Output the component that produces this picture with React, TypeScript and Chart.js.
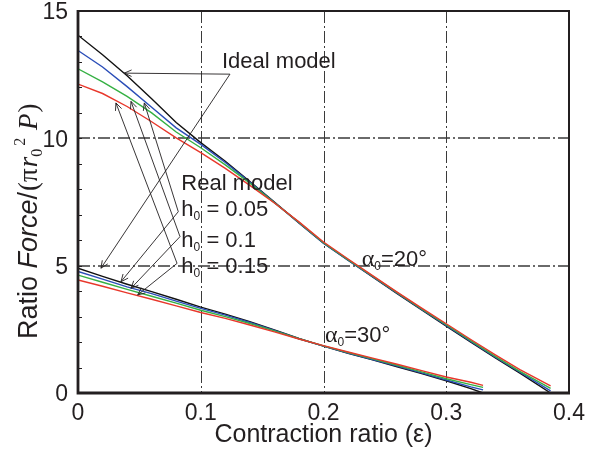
import { useEffect, useRef } from "react";
import { Chart, registerables } from "chart.js";

Chart.register(...registerables);

// Contraction ratio samples, half-angle 20°
const EPS_20 = [0, 0.02, 0.04, 0.06, 0.08, 0.1, 0.12, 0.14, 0.16, 0.18, 0.2, 0.22, 0.24, 0.26, 0.28, 0.3, 0.32, 0.34, 0.36, 0.385];
const IDEAL_20 = [14.05, 13.28, 12.46, 11.55, 10.62, 9.83, 9.1, 8.3, 7.5, 6.68, 5.88, 5.22, 4.56, 3.9, 3.26, 2.62, 2.0, 1.38, 0.78, 0];
const H005_20 = [13.45, 12.8, 12.03, 11.22, 10.41, 9.76, 9.05, 8.28, 7.48, 6.68, 5.88, 5.22, 4.57, 3.92, 3.28, 2.65, 2.03, 1.41, 0.82, 0.08];
const H010_20 = [12.73, 12.22, 11.65, 11.0, 10.25, 9.63, 8.96, 8.24, 7.47, 6.7, 5.9, 5.24, 4.59, 3.94, 3.3, 2.68, 2.06, 1.44, 0.85, 0.18];
const H015_20 = [12.13, 11.76, 11.25, 10.65, 10.02, 9.44, 8.82, 8.15, 7.46, 6.72, 5.93, 5.26, 4.61, 3.96, 3.33, 2.72, 2.1, 1.5, 0.92, 0.28];

// Contraction ratio samples, half-angle 30°
const EPS_30 = [0, 0.02, 0.04, 0.06, 0.08, 0.1, 0.12, 0.14, 0.16, 0.18, 0.2, 0.22, 0.24, 0.26, 0.28, 0.3, 0.32, 0.33];
const IDEAL_30 = [4.9, 4.58, 4.27, 3.98, 3.68, 3.37, 3.1, 2.8, 2.48, 2.14, 1.84, 1.56, 1.3, 1.03, 0.76, 0.48, 0.17, 0];
const H005_30 = [4.77, 4.47, 4.17, 3.9, 3.61, 3.32, 3.06, 2.77, 2.46, 2.13, 1.84, 1.57, 1.31, 1.06, 0.79, 0.51, 0.24, 0.12];
const H010_30 = [4.63, 4.35, 4.07, 3.8, 3.53, 3.25, 3.0, 2.73, 2.44, 2.13, 1.85, 1.59, 1.34, 1.09, 0.83, 0.56, 0.33, 0.22];
const H015_30 = [4.44, 4.19, 3.93, 3.68, 3.42, 3.16, 2.93, 2.67, 2.4, 2.12, 1.86, 1.61, 1.37, 1.13, 0.88, 0.63, 0.42, 0.3];

// Axes
const X_GRID = [0.1, 0.2, 0.3];
const Y_GRID = [5, 10];
const Y_MINOR = [1, 2, 3, 4, 5, 6, 7, 8, 9, 10, 11, 12, 13, 14];
const X_TITLE = "Contraction ratio (\u03b5)";

// Call-out text
const IDEAL_NOTE = "Ideal model";
const REAL_NOTE = "Real model";
const H_VALUES = ["0.05", "0.1", "0.15"];
const ANGLE_NOTES = ["20\u00b0", "30\u00b0"];

// Call-out anchors (data units)
const IDEAL_HUB = { x: 0.1238, y: 12.52 };
const IDEAL_TIPS = [{ x: 0.0377, y: 12.56 }, { x: 0.0187, y: 4.9 }];
const REAL_HUBS = [{ x: 0.0817, y: 7.12 }, { x: 0.0831, y: 6.14 }, { x: 0.0807, y: 5.09 }];
const REAL_TIPS_20 = [{ x: 0.054, y: 11.39 }, { x: 0.0432, y: 11.45 }, { x: 0.0309, y: 11.39 }];
const REAL_TIPS_30 = [{ x: 0.035, y: 4.37 }, { x: 0.0432, y: 4.11 }, { x: 0.0486, y: 3.85 }];
const IDEAL_NOTE_AT = { x: 0.1173, y: 12.76 };
const REAL_NOTE_AT = { x: 0.0842, y: 7.97 };
const H_NOTE_AT = [{ x: 0.0842, y: 6.95 }, { x: 0.0842, y: 5.74 }, { x: 0.0842, y: 4.7 }];
const ANGLE_NOTE_AT = [{ x: 0.2311, y: 4.99 }, { x: 0.2012, y: 2.01 }];

const INK = "#231f20";
const BLACK = "#111111";
const BLUE = "#2a4db8";
const GREEN = "#35b043";
const RED = "#e8372b";
const SANS = '"Liberation Sans", Arial, Helvetica, sans-serif';
const SERIF = '"Liberation Serif", "Times New Roman", serif';

type Part = { t: string; font: string; dy?: number; dx?: number };

function drawParts(ctx: CanvasRenderingContext2D, x: number, y: number, parts: Part[]) {
  let cx = x;
  for (const p of parts) {
    ctx.font = p.font;
    cx += p.dx || 0;
    ctx.fillText(p.t, cx, y + (p.dy || 0));
    cx += ctx.measureText(p.t).width;
  }
}

function arrow(ctx: CanvasRenderingContext2D, x0: number, y0: number, x1: number, y1: number) {
  ctx.beginPath();
  ctx.moveTo(x0, y0);
  ctx.lineTo(x1, y1);
  const ang = Math.atan2(y1 - y0, x1 - x0);
  const len = 8;
  const spread = 0.42;
  ctx.moveTo(x1 - len * Math.cos(ang - spread), y1 - len * Math.sin(ang - spread));
  ctx.lineTo(x1, y1);
  ctx.lineTo(x1 - len * Math.cos(ang + spread), y1 - len * Math.sin(ang + spread));
  ctx.stroke();
}

const figureMarks = {
  id: "figureMarks",
  beforeDatasetsDraw(chart: any) {
    const { ctx, chartArea: a, scales } = chart;
    const xs = scales.x;
    const ys = scales.y;
    ctx.save();
    ctx.strokeStyle = "#3a3a3a";
    ctx.setLineDash([12, 3, 2, 3]);
    ctx.lineWidth = 1;
    for (const v of X_GRID) {
      const px = Math.round(xs.getPixelForValue(v)) + 0.5;
      ctx.beginPath();
      ctx.moveTo(px, a.top);
      ctx.lineTo(px, a.bottom);
      ctx.stroke();
    }
    ctx.lineWidth = 1.6;
    for (const v of Y_GRID) {
      const py = Math.round(ys.getPixelForValue(v));
      ctx.beginPath();
      ctx.moveTo(a.left, py);
      ctx.lineTo(a.right, py);
      ctx.stroke();
    }
    ctx.restore();
  },
  afterDatasetsDraw(chart: any) {
    const { ctx, chartArea: a, scales } = chart;
    const xs = scales.x;
    const ys = scales.y;
    const P = (p: { x: number; y: number }) => [xs.getPixelForValue(p.x), ys.getPixelForValue(p.y)];
    ctx.save();

    // frame
    ctx.strokeStyle = INK;
    ctx.lineWidth = 2;
    ctx.strokeRect(a.left, a.top, a.right - a.left, a.bottom - a.top);
    ctx.lineWidth = 2.8;
    ctx.beginPath();
    ctx.moveTo(a.left, a.top - 1);
    ctx.lineTo(a.left, a.bottom);
    ctx.lineTo(a.right + 1, a.bottom);
    ctx.stroke();

    // minor ticks on the value axis
    ctx.lineWidth = 1;
    for (const v of Y_MINOR) {
      const py = Math.round(ys.getPixelForValue(v)) + 0.5;
      ctx.beginPath();
      ctx.moveTo(a.left, py);
      ctx.lineTo(a.left + 4, py);
      ctx.stroke();
    }

    // call-out arrows
    ctx.lineWidth = 0.9;
    const [hx, hy] = P(IDEAL_HUB);
    for (const t of IDEAL_TIPS) {
      const [tx, ty] = P(t);
      arrow(ctx, hx, hy, tx, ty);
    }
    REAL_HUBS.forEach((h, i) => {
      const [rx, ry] = P(h);
      const [ax, ay] = P(REAL_TIPS_20[i]);
      const [bx, by] = P(REAL_TIPS_30[i]);
      arrow(ctx, rx, ry, ax, ay);
      arrow(ctx, rx, ry, bx, by);
    });

    // notes
    ctx.fillStyle = INK;
    ctx.textBaseline = "alphabetic";
    ctx.textAlign = "left";
    const big = `22px ${SANS}`;
    const sub = `12px ${SANS}`;
    {
      const [x, y] = P(IDEAL_NOTE_AT);
      drawParts(ctx, x, y, [{ t: IDEAL_NOTE, font: big }]);
    }
    {
      const [x, y] = P(REAL_NOTE_AT);
      drawParts(ctx, x, y, [{ t: REAL_NOTE, font: big }]);
    }
    H_VALUES.forEach((h, i) => {
      const [x, y] = P(H_NOTE_AT[i]);
      drawParts(ctx, x, y, [
        { t: "h", font: big },
        { t: "0", font: sub, dy: 4 },
        { t: " = " + h, font: big },
      ]);
    });
    ANGLE_NOTES.forEach((s, i) => {
      const [x, y] = P(ANGLE_NOTE_AT[i]);
      drawParts(ctx, x, y, [
        { t: "\u03b1", font: `24px ${SERIF}` },
        { t: "0", font: sub, dy: 4 },
        { t: "=" + s, font: big },
      ]);
    });

    // x-axis title
    ctx.font = `25px ${SANS}`;
    ctx.textAlign = "center";
    ctx.fillText(X_TITLE, (a.left + a.right) / 2, 442);

    // y-axis title, written upwards from the lower end
    ctx.textAlign = "left";
    const serif = `27px ${SERIF}`;
    const serifIt = `italic 27px ${SERIF}`;
    const tiny = `16px ${SERIF}`;
    const yParts: Part[] = [
      { t: "Ratio ", font: `27px ${SANS}` },
      { t: "Force", font: `italic 27px ${SANS}` },
      { t: "/", font: `27px ${SANS}` },
      { t: "(", font: serif, dx: 1 },
      { t: "\u03c0", font: serif },
      { t: "r", font: serifIt, dx: 1 },
      { t: "0", font: tiny, dy: 5 },
      { t: "2", font: tiny, dy: -12, dx: 3 },
      { t: " P", font: serifIt, dx: 1 },
      { t: ")", font: serif, dx: 1 },
    ];
    ctx.translate(37, 339);
    ctx.rotate(-Math.PI / 2);
    drawParts(ctx, 0, 0, yParts);
    ctx.restore();
  },
};

function series(xs: number[], ys: number[]) {
  return xs.map((x, i) => ({ x, y: ys[i] }));
}

export default function App() {
  const ref = useRef<HTMLCanvasElement>(null);

  useEffect(() => {
    document.body.style.margin = "0";
    const canvas = ref.current;
    if (!canvas) return;

    const line = (label: string, data: { x: number; y: number }[], color: string, order: number) => ({
      label,
      data,
      borderColor: color,
      backgroundColor: color,
      borderWidth: 1.4,
      pointRadius: 0,
      tension: 0,
      fill: false,
      order,
    });

    const tickFont = { family: SANS, size: 23, lineHeight: 1.2 };

    const chart = new Chart(canvas, {
      type: "line",
      data: {
        datasets: [
          line("ideal, 20°", series(EPS_20, IDEAL_20), BLACK, 3),
          line("h0 = 0.05, 20°", series(EPS_20, H005_20), BLUE, 2),
          line("h0 = 0.1, 20°", series(EPS_20, H010_20), GREEN, 1),
          line("h0 = 0.15, 20°", series(EPS_20, H015_20), RED, 0),
          line("ideal, 30°", series(EPS_30, IDEAL_30), BLACK, 3),
          line("h0 = 0.05, 30°", series(EPS_30, H005_30), BLUE, 2),
          line("h0 = 0.1, 30°", series(EPS_30, H010_30), GREEN, 1),
          line("h0 = 0.15, 30°", series(EPS_30, H015_30), RED, 0),
        ],
      },
      options: {
        responsive: false,
        animation: false,
        devicePixelRatio: 1,
        layout: { padding: { top: 11, right: 29, left: 0, bottom: 0 } },
        plugins: { legend: { display: false }, tooltip: { enabled: false } },
        scales: {
          x: {
            type: "linear",
            min: 0,
            max: 0.4,
            border: { display: false },
            grid: { display: false, drawTicks: false },
            ticks: {
              stepSize: 0.1,
              padding: 7,
              color: INK,
              font: tickFont,
              maxRotation: 0,
              callback: (v: any) => {
                const n = Number(v);
                return n === 0 ? "0" : n.toFixed(1);
              },
            },
            afterFit: (s: any) => {
              s.height = 67;
              s.paddingLeft = 0;
              s.paddingRight = 0;
            },
          },
          y: {
            type: "linear",
            min: 0,
            max: 15,
            border: { display: false },
            grid: { display: false, drawTicks: false },
            ticks: {
              stepSize: 5,
              padding: 10,
              labelOffset: 2,
              color: INK,
              font: tickFont,
              callback: (v: any) => String(Number(v)),
            },
            afterFit: (s: any) => {
              s.width = 78;
              s.paddingTop = 0;
              s.paddingBottom = 0;
            },
          },
        },
      },
      plugins: [figureMarks],
    } as any);

    return () => chart.destroy();
  }, []);

  return <canvas ref={ref} width={598} height={460} style={{ display: "block", width: 598, height: 460 }} />;
}
